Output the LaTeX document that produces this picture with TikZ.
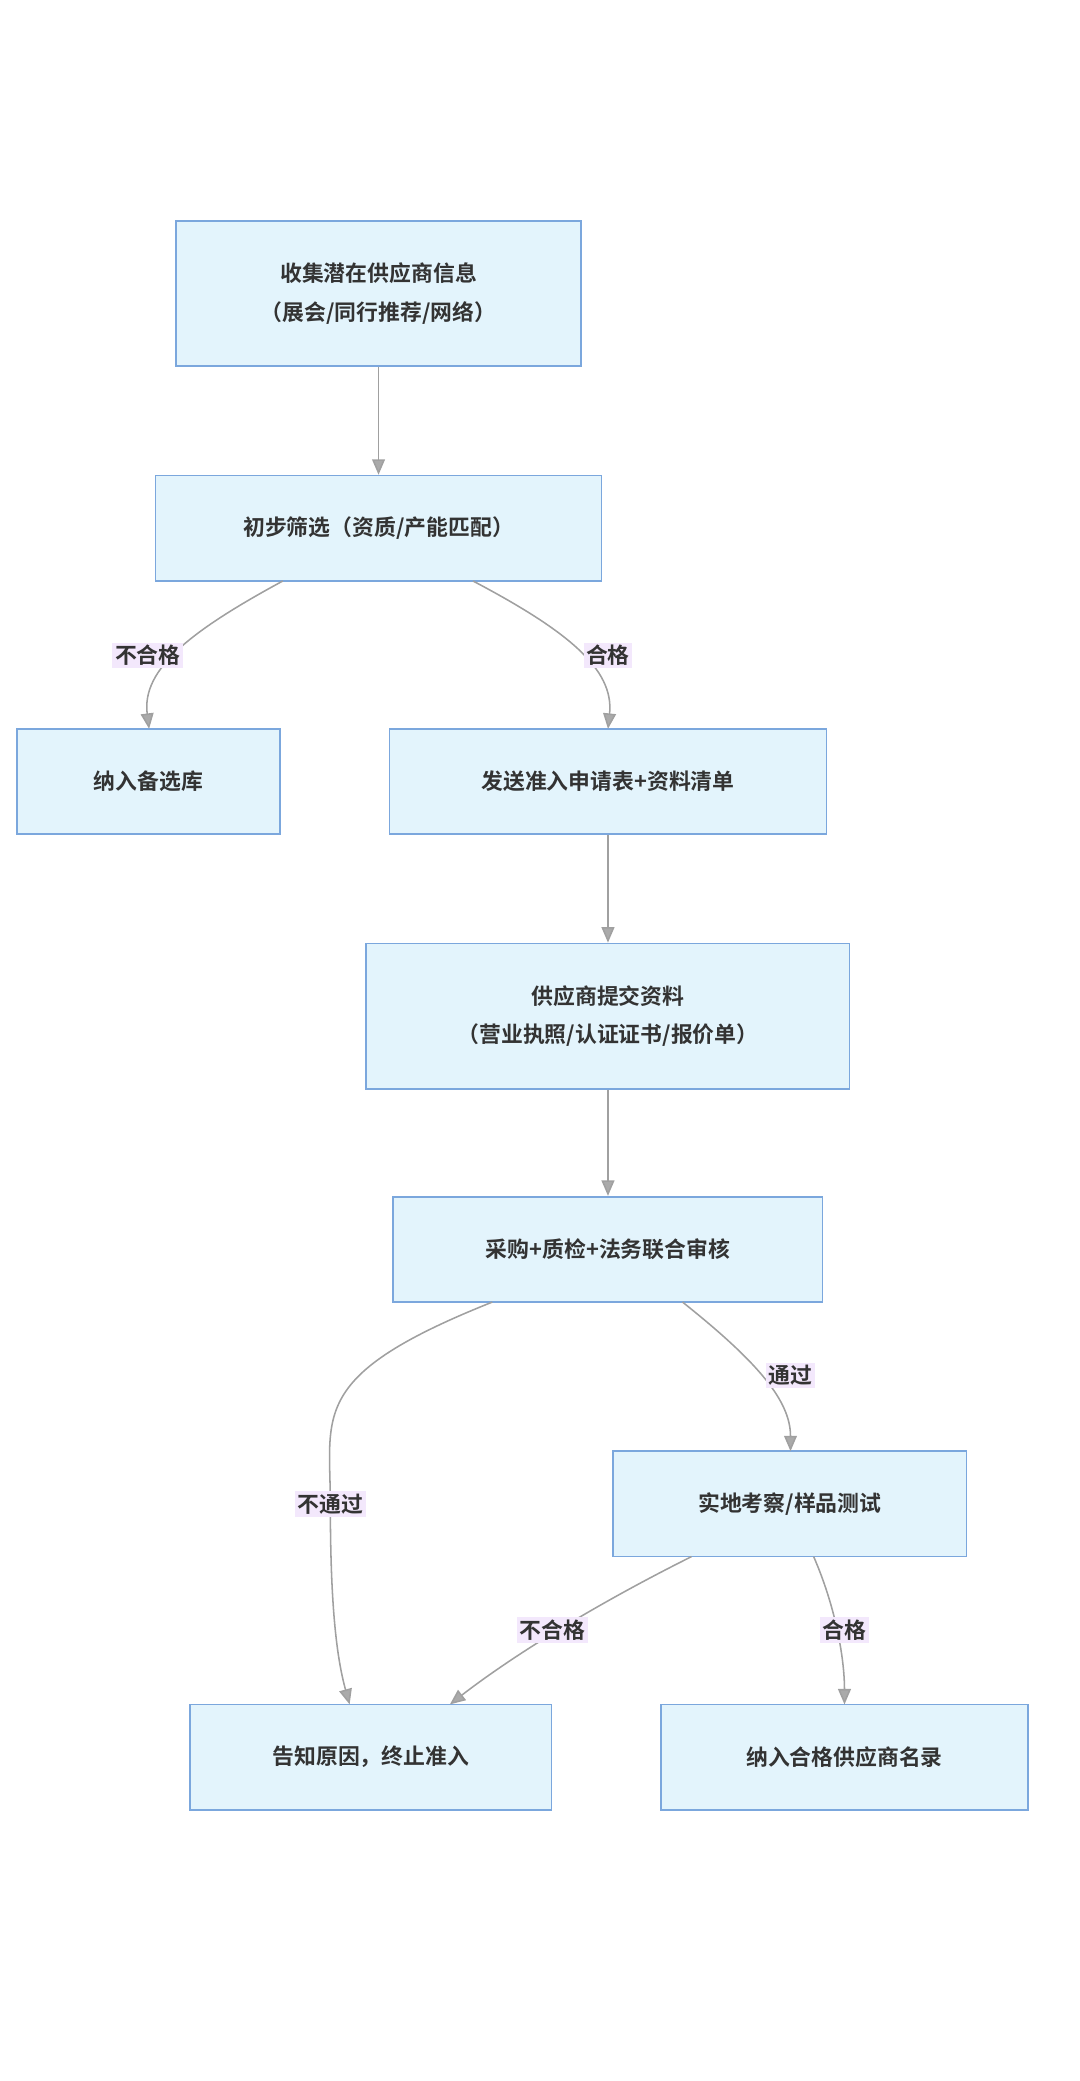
\documentclass[tikz,border=0pt]{standalone}
\usepackage{fontspec}
\newfontfamily\cjk{Noto Sans CJK SC}[BoldFont={Noto Sans CJK SC Bold}]
\usetikzlibrary{arrows.meta}
\definecolor{boxfill}{HTML}{E3F4FC}
\definecolor{boxline}{HTML}{7BA7DD}
\definecolor{edgeline}{HTML}{A0A0A0}
\definecolor{lblfill}{HTML}{F3E8FC}
\definecolor{txt}{HTML}{333333}
\tikzset{
  stage/.style={draw=boxline, line width=1.3pt, fill=boxfill, text=txt, align=center,
    font=\cjk\bfseries\fontsize{17}{30}\selectfont, inner sep=0pt},
  flow/.style={draw=edgeline, line width=1.2pt, -{Triangle[length=12pt,width=10pt,fill=edgeline!90]}},
  lbl/.style={fill=lblfill, text=txt, font=\cjk\bfseries\fontsize{17}{20}\selectfont, inner sep=2pt}
}
\begin{document}
\begin{tikzpicture}[x=1pt,y=-1pt]
  \useasboundingbox (0,0) rectangle (840,1619);
  % Nodes
  \node[stage, minimum width=315pt, minimum height=113pt] (collect) at (294.5,228.5) {收集潜在供应商信息\\（展会/同行推荐/网络）};
  \node[stage, minimum width=347pt, minimum height=82pt] (screen) at (294.5,411) {初步筛选（资质/产能匹配）};
  \node[stage, minimum width=205pt, minimum height=82pt] (backup) at (115.5,608) {纳入备选库};
  \node[stage, minimum width=340pt, minimum height=82pt] (send) at (473,608) {发送准入申请表+资料清单};
  \node[stage, minimum width=376pt, minimum height=113pt] (submit) at (473,790.5) {供应商提交资料\\（营业执照/认证证书/报价单）};
  \node[stage, minimum width=334pt, minimum height=82pt] (review) at (473,972) {采购+质检+法务联合审核};
  \node[stage, minimum width=275pt, minimum height=82pt] (visit) at (614.5,1170) {实地考察/样品测试};
  \node[stage, minimum width=281pt, minimum height=82pt] (reject) at (288.5,1367) {告知原因，终止准入};
  \node[stage, minimum width=286pt, minimum height=82pt] (accept) at (657,1367) {纳入合格供应商名录};

  % Connector anchor points
  \coordinate (s1) at (220,452);
  \coordinate (s2) at (368,452);
  \coordinate (r1) at (383,1013);
  \coordinate (r2) at (531,1013);
  \coordinate (v1) at (538,1211);
  \coordinate (v2) at (633,1211);
  \coordinate (b1) at (116,567);
  \coordinate (d1) at (473,567);
  \coordinate (g1) at (615,1129);
  \coordinate (h1) at (272,1326);
  \coordinate (h2) at (350,1326);
  \coordinate (i1) at (657,1326);

  % Connectors
  \draw[flow] (collect) -- (screen);
  \draw[flow] (s1) .. controls (150,490) and (110,520) .. (b1);
  \draw[flow] (s2) .. controls (440,490) and (478,520) .. (d1);
  \draw[flow] (send) -- (submit);
  \draw[flow] (submit) -- (review);
  \draw[flow] (r1) .. controls (240,1070) and (257,1100) .. (257,1170) .. controls (257,1250) and (262,1290) .. (h1);
  \draw[flow] (r2) .. controls (590,1060) and (615,1090) .. (g1);
  \draw[flow] (v1) .. controls (450,1255) and (390,1295) .. (h2);
  \draw[flow] (v2) .. controls (650,1250) and (657,1290) .. (i1);

  % Labels
  \node[lbl] (l1) at (115,510) {不合格};
  \node[lbl] (l2) at (473,510) {合格};
  \node[lbl] (l3) at (615,1070) {通过};
  \node[lbl] (l4) at (257,1170) {不通过};
  \node[lbl] (l5) at (430,1268) {不合格};
  \node[lbl] (l6) at (657,1268) {合格};
\end{tikzpicture}
\end{document}
